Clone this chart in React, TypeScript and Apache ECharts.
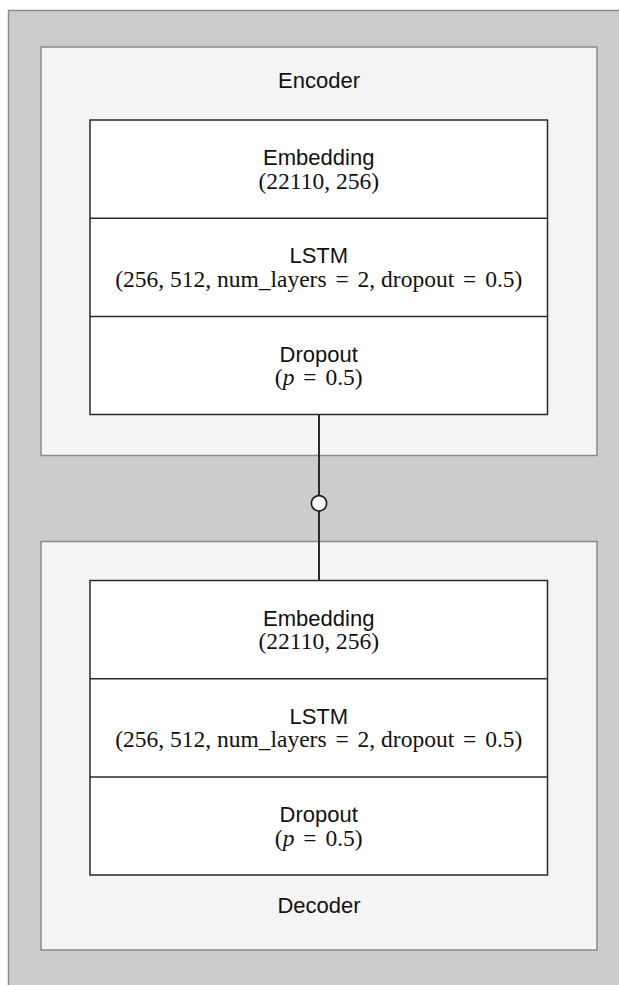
import React, { useEffect, useRef } from "react";
import * as echarts from "echarts";

const blockTitles = ["Encoder", "Decoder"];
const layerNames = ["Embedding", "LSTM", "Dropout"];
const layerParams = ["(22110, 256)", "(256, 512, num_layers = 2, dropout = 0.5)", "(p = 0.5)"];

const W = 619;
const H = 985;
const SANS = "'Liberation Sans', Arial, Helvetica, sans-serif";
const SERIF = "'Liberation Serif', 'Times New Roman', serif";

// layout
const OUTER = { x: 8.5, y: 10.5, w: 621, h: 1100 };
const BLOCK_X = 41;
const BLOCK_W = 556;
const BLOCK_Y = [47, 541.5];
const BLOCK_H = 408.5;
const STACK_X = 90;
const STACK_W = 457.5;
const STACK_Y = [120, 580.5];
const ROW_H = 98.2;
const TITLE_DY = -11.5;
const SUB_DY = 11.5;

function paramRich(s: string) {
  // italicise the standalone variable "p", widen "=" like math spacing
  return s
    .split(/(\bp\b|=)/)
    .filter((t) => t.length > 0)
    .map((t) => (t === "p" ? "{i|p}" : t === "=" ? "{e|=}" : "{s|" + t + "}"))
    .join("");
}

export default function App() {
  const ref = useRef<HTMLDivElement>(null);
  useEffect(() => {
    if (!ref.current) return;
    const chart = echarts.init(ref.current, null, { renderer: "svg" });
    const els: any[] = [];
    els.push({
      type: "rect",
      shape: { x: OUTER.x, y: OUTER.y, width: OUTER.w, height: OUTER.h },
      style: { fill: "#cccccc", stroke: "#8a8a8a", lineWidth: 1.5 },
      z: 0,
    });
    blockTitles.forEach((title, b) => {
      const by = BLOCK_Y[b];
      els.push({
        type: "rect",
        shape: { x: BLOCK_X, y: by, width: BLOCK_W, height: BLOCK_H },
        style: { fill: "#f4f4f4", stroke: "#8a8a8a", lineWidth: 1.5 },
        z: 1,
      });
      const sy = STACK_Y[b];
      const stackH = ROW_H * layerNames.length;
      els.push({
        type: "rect",
        shape: { x: STACK_X, y: sy, width: STACK_W, height: stackH },
        style: { fill: "#ffffff", stroke: "#2a2a2a", lineWidth: 1.5 },
        z: 2,
      });
      layerNames.forEach((name, i) => {
        const ry = sy + ROW_H * i;
        if (i > 0) {
          els.push({
            type: "line",
            shape: { x1: STACK_X, y1: ry, x2: STACK_X + STACK_W, y2: ry },
            style: { stroke: "#2a2a2a", lineWidth: 1.5 },
            z: 3,
          });
        }
        const cy = ry + ROW_H / 2;
        const cx = STACK_X + STACK_W / 2;
        els.push({
          type: "text",
          x: cx,
          y: cy + TITLE_DY,
          style: {
            text: name,
            font: "22px " + SANS,
            lineHeight: 20,
            fill: "#111",
            align: "center",
            verticalAlign: "middle",
          },
          z: 4,
        });
        els.push({
          type: "text",
          x: cx,
          y: cy + SUB_DY,
          style: {
            text: paramRich(layerParams[i]),
            align: "center",
            verticalAlign: "middle",
            rich: {
              s: { fontFamily: SERIF, fontSize: 23.5, lineHeight: 20, fill: "#111" },
              i: { fontFamily: SERIF, fontSize: 23.5, lineHeight: 20, fontStyle: "italic", fill: "#111" },
              e: { fontFamily: SERIF, fontSize: 23.5, lineHeight: 20, fill: "#111", padding: [0, 3] },
            },
          },
          z: 4,
        });
      });
      // block title: above stack for encoder, below for decoder
      const ty = b === 0 ? 80 : 905;
      els.push({
        type: "text",
        x: BLOCK_X + BLOCK_W / 2,
        y: ty,
        style: {
          text: title,
          font: "22px " + SANS,
          fill: "#111",
          align: "center",
          verticalAlign: "middle",
        },
        z: 4,
      });
    });
    // connector
    const lx = 319;
    const y1 = STACK_Y[0] + ROW_H * layerNames.length;
    const y2 = STACK_Y[1];
    els.push({
      type: "line",
      shape: { x1: lx, y1, x2: lx, y2 },
      style: { stroke: "#2a2a2a", lineWidth: 2 },
      z: 5,
    });
    els.push({
      type: "circle",
      shape: { cx: lx, cy: 503.3, r: 7.6 },
      style: { fill: "#ffffff", stroke: "#1a1a1a", lineWidth: 1.6 },
      z: 6,
    });

    chart.setOption({
      animation: false,
      backgroundColor: "#ffffff",
      graphic: { elements: els },
    });
    return () => chart.dispose();
  }, []);
  return (
    <div
      ref={ref}
      style={{ position: "fixed", left: 0, top: 0, width: W, height: H }}
    />
  );
}
